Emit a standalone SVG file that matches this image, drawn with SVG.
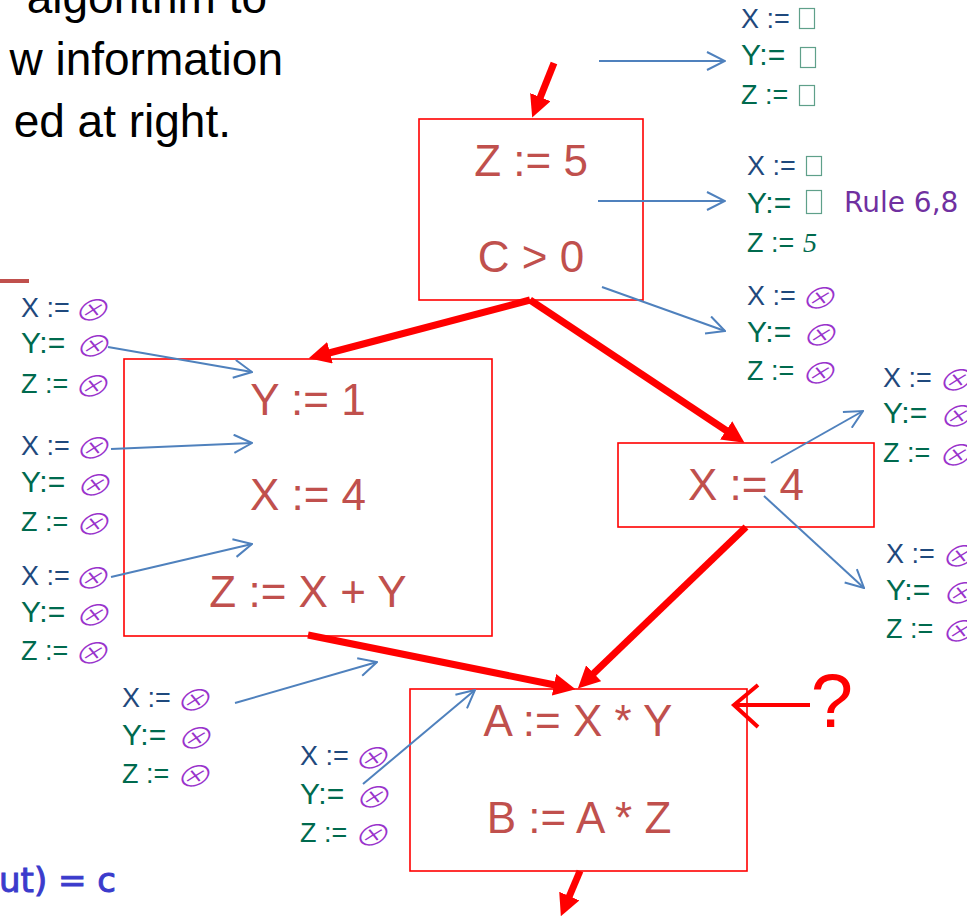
<svg xmlns="http://www.w3.org/2000/svg" width="967" height="917" viewBox="0 0 967 917">
<defs>
<style>
.top{font-family:"Liberation Sans",Arial,sans-serif;font-size:46px;fill:#000;text-anchor:end}
.node rect{fill:#fff;stroke:#FF0000;stroke-width:1.6}
.nt{font-family:"Liberation Sans",Arial,sans-serif;font-size:44px;fill:#C0504D;text-anchor:middle}
.lx{font-family:"Liberation Sans",Arial,sans-serif;font-size:27px;fill:#1F497D}
.ly{font-family:"Liberation Sans",Arial,sans-serif;font-size:30px;fill:#006A4E}
.lz{font-family:"Liberation Sans",Arial,sans-serif;font-size:27px;fill:#006A4E}
.bot{font-family:"Noto Sans CJK JP","DejaVu Sans",sans-serif;font-size:32px;font-weight:300;fill:#9933CC}
.tofu{fill:none;stroke:#5FA08A;stroke-width:1.2}
.red{stroke:#FF0000;stroke-width:7;fill:none;marker-end:url(#rh)}
.blue{stroke:#4F81BD;stroke-width:2;fill:none;marker-end:url(#bh)}
</style>
<marker id="rh" viewBox="0 0 22 22" markerWidth="22" markerHeight="22" refX="1" refY="11" orient="auto" markerUnits="userSpaceOnUse">
<path d="M0,0 L22,11 L0,22 Z" fill="#FF0000"/>
</marker>
<marker id="bh" viewBox="0 0 20 20" markerWidth="20" markerHeight="20" refX="19" refY="10" orient="auto" markerUnits="userSpaceOnUse">
<path d="M1,1 L19,10 L1,19" fill="none" stroke="#4F81BD" stroke-width="2"/>
</marker>
</defs>
<rect width="967" height="917" fill="#fff"/>

<g id="title">
<text class="top" x="267" y="13">algorithm to</text>
<text class="top" x="283" y="75">w information</text>
<text class="top" x="231" y="137">ed at right.</text>
</g>
<line x1="0" y1="281" x2="29" y2="281" stroke="#C0504D" stroke-width="4"/>
<text x="116" y="892" font-family="DejaVu Sans,sans-serif" font-size="34" fill="#3B3BCC" stroke="#3B3BCC" stroke-width="1" text-anchor="end">ut) = c</text>

<g id="n1" class="node">
<rect x="419" y="119" width="224" height="181"/>
<text class="nt" x="531" y="176">Z := 5</text>
<text class="nt" x="531" y="272">C &gt; 0</text>
</g>
<g id="n2" class="node">
<rect x="124" y="359" width="368" height="277"/>
<text class="nt" x="308" y="415">Y := 1</text>
<text class="nt" x="308" y="510">X := 4</text>
<text class="nt" x="308" y="607">Z := X + Y</text>
</g>
<g id="n3" class="node">
<rect x="618" y="443" width="256" height="84"/>
<text class="nt" x="746" y="500">X := 4</text>
</g>
<g id="n4" class="node">
<rect x="410" y="689" width="337" height="182"/>
<text class="nt" x="578" y="736">A := X * Y</text>
<text class="nt" x="579" y="833">B := A * Z</text>
</g>

<g id="connectors">
<line class="red" x1="554" y1="63" x2="540" y2="98"/>
<line class="red" x1="530" y1="300" x2="329" y2="353"/>
<line class="red" x1="530" y1="300" x2="727" y2="431"/>
<line class="red" x1="308" y1="635" x2="555" y2="685"/>
<line class="red" x1="746" y1="527" x2="593" y2="674"/>
<line class="red" x1="580" y1="871" x2="569" y2="897"/>
<line class="blue" x1="599" y1="61" x2="725" y2="61"/>
<line class="blue" x1="598" y1="201" x2="725" y2="201"/>
<line class="blue" x1="602" y1="287" x2="725" y2="331"/>
<line class="blue" x1="108" y1="347" x2="252" y2="372"/>
<line class="blue" x1="111" y1="449" x2="252" y2="443"/>
<line class="blue" x1="111" y1="577" x2="252" y2="544"/>
<line class="blue" x1="235" y1="703" x2="377" y2="662"/>
<line class="blue" x1="363" y1="784" x2="475" y2="690"/>
<line class="blue" x1="771" y1="463" x2="863" y2="411"/>
<line class="blue" x1="764" y1="496" x2="864" y2="588"/>
<path d="M810,705 L735,705 M758,685 L734,705 L758,727" fill="none" stroke="#FF0000" stroke-width="4"/>
</g>
<text x="832" y="727" font-family="Liberation Sans,Arial,sans-serif" font-size="76" fill="#FF0000" text-anchor="middle">?</text>

<g id="s-top">
<text class="lx" x="741" y="28">X :=</text><rect class="tofu" x="799.5" y="8.5" width="15" height="20"/>
<text class="ly" x="741" y="65">Y:=</text><rect class="tofu" x="800.5" y="47.5" width="15" height="20"/>
<text class="lz" x="741" y="104">Z :=</text><rect class="tofu" x="799.5" y="85.5" width="15" height="20"/>
</g>
<g id="s-z5">
<text class="lx" x="747" y="175">X :=</text><rect class="tofu" x="806.5" y="156.5" width="15" height="19"/>
<text class="ly" x="747" y="213">Y:=</text><rect class="tofu" x="806.5" y="190.5" width="15" height="23"/>
<text class="lz" x="747" y="252">Z :=</text><text x="803" y="252" font-family="Liberation Serif,serif" font-style="italic" font-size="28" fill="#006A4E">5</text>
<text x="844" y="212" font-family="DejaVu Sans,sans-serif" font-size="28" fill="#7030A0">Rule 6,8</text>
</g>
<g id="s-c0">
<text class="lx" x="747" y="305">X :=</text><text class="bot" transform="translate(798,309) skewX(-22) scale(1.12,0.92)">⊗</text>
<text class="ly" x="747" y="342">Y:=</text><text class="bot" transform="translate(799,346) skewX(-22) scale(1.12,0.92)">⊗</text>
<text class="lz" x="747" y="380">Z :=</text><text class="bot" transform="translate(798,384) skewX(-22) scale(1.12,0.92)">⊗</text>
</g>
<g id="s-r1">
<text class="lx" x="883" y="387">X :=</text><text class="bot" transform="translate(935,391) skewX(-22) scale(1.12,0.92)">⊗</text>
<text class="ly" x="883" y="423">Y:=</text><text class="bot" transform="translate(936,427) skewX(-22) scale(1.12,0.92)">⊗</text>
<text class="lz" x="883" y="462">Z :=</text><text class="bot" transform="translate(935,466) skewX(-22) scale(1.12,0.92)">⊗</text>
</g>
<g id="s-r2">
<text class="lx" x="886" y="563">X :=</text><text class="bot" transform="translate(938,567) skewX(-22) scale(1.12,0.92)">⊗</text>
<text class="ly" x="886" y="600">Y:=</text><text class="bot" transform="translate(939,604) skewX(-22) scale(1.12,0.92)">⊗</text>
<text class="lz" x="886" y="638">Z :=</text><text class="bot" transform="translate(938,642) skewX(-22) scale(1.12,0.92)">⊗</text>
</g>
<g id="s-l1">
<text class="lx" x="21" y="317">X :=</text><text class="bot" transform="translate(71,321) skewX(-22) scale(1.12,0.92)">⊗</text>
<text class="ly" x="21" y="353">Y:=</text><text class="bot" transform="translate(72,357) skewX(-22) scale(1.12,0.92)">⊗</text>
<text class="lz" x="21" y="393">Z :=</text><text class="bot" transform="translate(71,397) skewX(-22) scale(1.12,0.92)">⊗</text>
</g>
<g id="s-l2">
<text class="lx" x="21" y="455">X :=</text><text class="bot" transform="translate(72,459) skewX(-22) scale(1.12,0.92)">⊗</text>
<text class="ly" x="21" y="492">Y:=</text><text class="bot" transform="translate(73,496) skewX(-22) scale(1.12,0.92)">⊗</text>
<text class="lz" x="21" y="531">Z :=</text><text class="bot" transform="translate(72,535) skewX(-22) scale(1.12,0.92)">⊗</text>
</g>
<g id="s-l3">
<text class="lx" x="21" y="585">X :=</text><text class="bot" transform="translate(71,589) skewX(-22) scale(1.12,0.92)">⊗</text>
<text class="ly" x="21" y="622">Y:=</text><text class="bot" transform="translate(72,626) skewX(-22) scale(1.12,0.92)">⊗</text>
<text class="lz" x="21" y="660">Z :=</text><text class="bot" transform="translate(71,664) skewX(-22) scale(1.12,0.92)">⊗</text>
</g>
<g id="s-l4">
<text class="lx" x="122" y="707">X :=</text><text class="bot" transform="translate(173,711) skewX(-22) scale(1.12,0.92)">⊗</text>
<text class="ly" x="122" y="745">Y:=</text><text class="bot" transform="translate(174,749) skewX(-22) scale(1.12,0.92)">⊗</text>
<text class="lz" x="122" y="783">Z :=</text><text class="bot" transform="translate(173,787) skewX(-22) scale(1.12,0.92)">⊗</text>
</g>
<g id="s-m">
<text class="lx" x="300" y="765">X :=</text><text class="bot" transform="translate(351,769) skewX(-22) scale(1.12,0.92)">⊗</text>
<text class="ly" x="300" y="804">Y:=</text><text class="bot" transform="translate(352,808) skewX(-22) scale(1.12,0.92)">⊗</text>
<text class="lz" x="300" y="842">Z :=</text><text class="bot" transform="translate(351,846) skewX(-22) scale(1.12,0.92)">⊗</text>
</g>
</svg>
